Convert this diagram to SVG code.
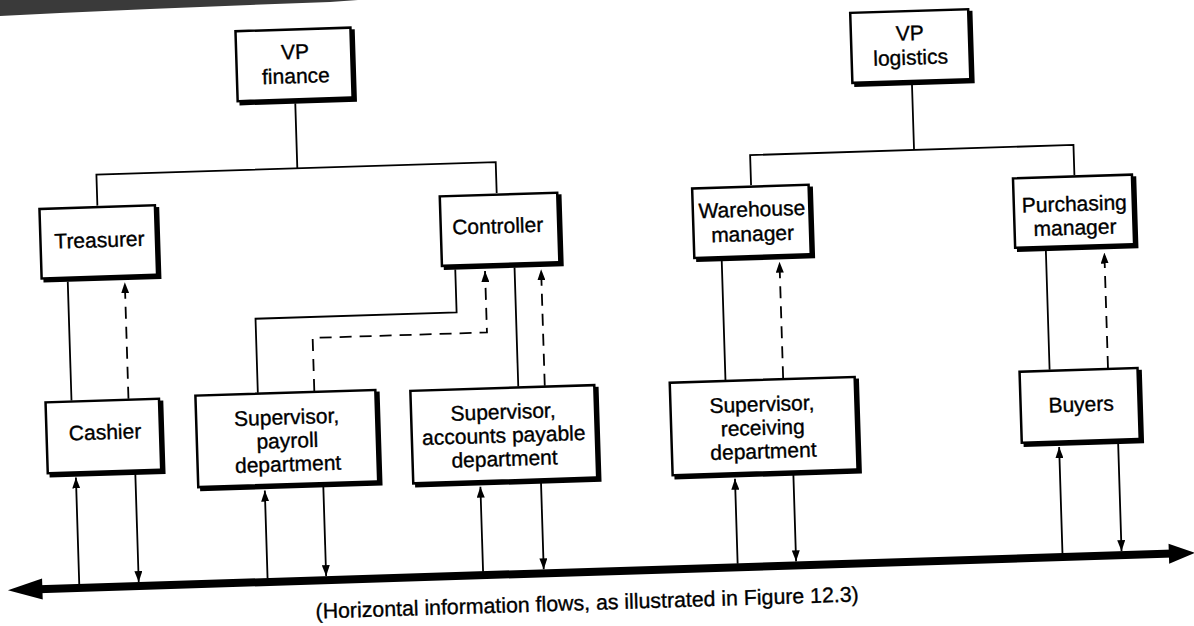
<svg xmlns="http://www.w3.org/2000/svg" width="1194" height="626" viewBox="0 0 1194 626">
  <defs>
    <style>
      .box { fill: #fff; stroke: #000; stroke-width: 2.5; }
      .shadow { fill: #000; stroke: #000; stroke-width: 2.5; }
      .label { font-family: "Liberation Sans", Arial, Helvetica, sans-serif; font-size: 21px; text-anchor: middle; fill: #000; stroke: #000; stroke-width: 0.35px; }
      .line { fill: none; stroke: #000; stroke-width: 1.8; }
      .dash { stroke-dasharray: 12 8; }
      .flow { marker-end: url(#arrow); }
    </style>
    <marker id="arrow" viewBox="0 0 11 8" refX="11" refY="4" markerWidth="11" markerHeight="8" markerUnits="userSpaceOnUse" orient="auto">
      <path d="M0,0 L11,4 L0,8 z" fill="#000"/>
    </marker>
  </defs>

  <rect x="0" y="0" width="1194" height="626" fill="#fff"/>
  <!-- dark page edge in the top-left corner -->
  <polygon points="0,0 358,0 330,2 250,5 150,9 60,13 0,16" fill="#3a3a3a"/>

  <g transform="rotate(-1.8 597 313)">
    <!-- connectors -->
    <g id="connectors">
      <!-- reporting lines -->
      <path class="line" d="M302,94 V159"/>
      <path class="line" d="M101,190 V159 H500.5 V190"/>
      <path class="line" d="M919,95 V160"/>
      <path class="line" d="M755,190 V160 H1078.5 V190"/>

      <path class="line" d="M69,265 V384"/>
      <path class="line" d="M456.7,265 V308 H255.5 V382"/>
      <path class="line" d="M516,265 V384"/>
      <path class="line" d="M723.3,265 V384"/>
      <path class="line" d="M1047.6,265 V384"/>

      <!-- upward reporting flows (dashed) -->
      <path class="line dash flow" d="M126,384 V267.5"/>
      <path class="line dash flow" d="M312,382 V329 H486.4 V267.5"/>
      <path class="line dash flow" d="M542.5,384 V267.5"/>
      <path class="line dash flow" d="M781,384 V267.5"/>
      <path class="line dash flow" d="M1106,384 V268.5"/>

      <!-- horizontal information flow bus -->
      <line x1="30" y1="571.5" x2="1165" y2="571.5" stroke="#000" stroke-width="8"/>
      <polygon points="-0.5,571.5 34,561 34,582" fill="#000"/>
      <polygon points="1187,571.5 1161,561.5 1161,581.5" fill="#000"/>

      <!-- exchanges with the bus -->
      <path class="line flow" d="M71,568 V461"/>
      <path class="line flow" d="M130.5,456.5 V567.5"/>
      <path class="line flow" d="M259.4,568 V480"/>
      <path class="line flow" d="M318,475.5 V567.5"/>
      <path class="line flow" d="M475,568 V483"/>
      <path class="line flow" d="M535.7,478.5 V567.5"/>
      <path class="line flow" d="M729.7,568 V483"/>
      <path class="line flow" d="M788.2,478.5 V567.5"/>
      <path class="line flow" d="M1054.7,568 V461.5"/>
      <path class="line flow" d="M1113.8,457 V567.5"/>
    </g>

    <!-- nodes -->
    <g id="vp-finance">
      <rect class="shadow" x="247.5" y="23" width="115" height="70"/>
      <rect class="box" x="244.5" y="20" width="115" height="70"/>
      <text class="label" x="303.5" y="49.7">VP</text>
      <text class="label" x="303.5" y="73.8">finance</text>
    </g>
    <g id="vp-logistics">
      <rect class="shadow" x="862.5" y="24" width="118" height="70"/>
      <rect class="box" x="859.5" y="21" width="118" height="70"/>
      <text class="label" x="918.5" y="50.3">VP</text>
      <text class="label" x="918.5" y="74.6">logistics</text>
    </g>

    <g id="treasurer">
      <rect class="shadow" x="46" y="194.5" width="115.5" height="69.5"/>
      <rect class="box" x="43" y="191.5" width="115.5" height="69.5"/>
      <text class="label" x="102" y="231.6">Treasurer</text>
    </g>
    <g id="controller">
      <rect class="shadow" x="446.5" y="194.5" width="117.5" height="69.5"/>
      <rect class="box" x="443.5" y="191.5" width="117.5" height="69.5"/>
      <text class="label" x="500.5" y="230.1">Controller</text>
    </g>
    <g id="warehouse-manager">
      <rect class="shadow" x="699" y="194.5" width="116.5" height="69.5"/>
      <rect class="box" x="696" y="191.5" width="116.5" height="69.5"/>
      <text class="label" x="755" y="221.4">Warehouse</text>
      <text class="label" x="755" y="246">manager</text>
    </g>
    <g id="purchasing-manager">
      <rect class="shadow" x="1020" y="194.5" width="119" height="69.5"/>
      <rect class="box" x="1017" y="191.5" width="119" height="69.5"/>
      <text class="label" x="1077.5" y="226">Purchasing</text>
      <text class="label" x="1077.5" y="249.8">manager</text>
    </g>

    <g id="cashier">
      <rect class="shadow" x="46" y="388" width="113.5" height="71"/>
      <rect class="box" x="43" y="385" width="113.5" height="71"/>
      <text class="label" x="101.5" y="423.8">Cashier</text>
    </g>
    <g id="payroll-supervisor">
      <rect class="shadow" x="196" y="386" width="180" height="91.5"/>
      <rect class="box" x="193" y="383" width="180" height="91.5"/>
      <text class="label" x="283.5" y="414.5">Supervisor,</text>
      <text class="label" x="283.5" y="438">payroll</text>
      <text class="label" x="283.5" y="461.5">department</text>
    </g>
    <g id="payables-supervisor">
      <rect class="shadow" x="411" y="388" width="184" height="92.5"/>
      <rect class="box" x="408" y="385" width="184" height="92.5"/>
      <text class="label" x="500" y="416">Supervisor,</text>
      <text class="label" x="500" y="439.5">accounts payable</text>
      <text class="label" x="500" y="463">department</text>
    </g>
    <g id="receiving-supervisor">
      <rect class="shadow" x="670.5" y="388" width="185" height="92.5"/>
      <rect class="box" x="667.5" y="385" width="185" height="92.5"/>
      <text class="label" x="759" y="416.5">Supervisor,</text>
      <text class="label" x="759" y="440">receiving</text>
      <text class="label" x="759" y="463.5">department</text>
    </g>
    <g id="buyers">
      <rect class="shadow" x="1020.5" y="388" width="118" height="71"/>
      <rect class="box" x="1017.5" y="385" width="118" height="71"/>
      <text class="label" x="1078" y="426.7">Buyers</text>
    </g>

    <text class="label" x="578" y="609.5" style="font-size:21.3px">(Horizontal information flows, as illustrated in Figure 12.3)</text>
  </g>
</svg>
